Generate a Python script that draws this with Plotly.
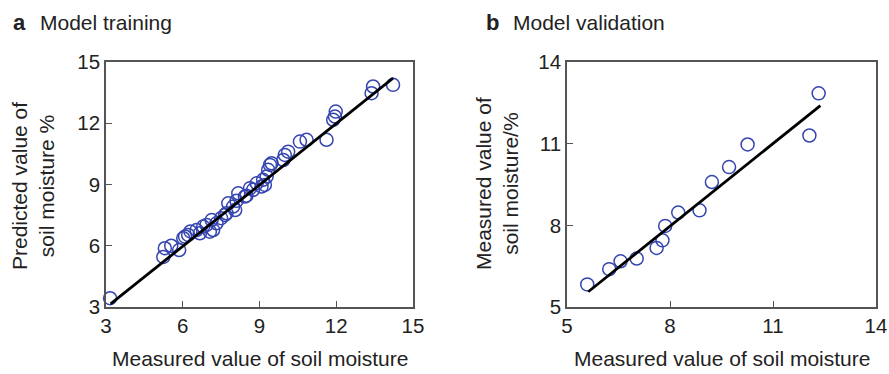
import plotly.graph_objects as go

# Training data (measured, predicted)
train_measured = [3.16, 5.24, 5.30, 5.55, 5.86, 6.02, 6.09, 6.21, 6.30, 6.54, 6.67, 6.80, 6.93,
                  7.06, 7.13, 7.19, 7.32, 7.50, 7.65, 7.71, 7.78, 7.97, 8.05, 8.10, 8.17, 8.43,
                  8.49, 8.63, 8.75, 8.89, 9.08, 9.14, 9.21, 9.28, 9.34, 9.41, 9.47, 9.93, 9.99,
                  10.12, 10.58, 10.84, 11.62, 11.88, 11.95, 11.98, 13.38, 13.44, 14.22]
train_predicted = [3.43, 5.45, 5.88, 6.00, 5.79, 6.37, 6.45, 6.53, 6.70, 6.77, 6.61, 6.94, 7.02,
                   6.69, 7.26, 6.77, 7.10, 7.35, 7.51, 7.59, 8.08, 7.92, 7.75, 8.20, 8.57, 8.41,
                   8.45, 8.82, 8.74, 9.06, 8.90, 9.23, 8.98, 9.39, 9.72, 9.96, 10.04, 10.20, 10.45,
                   10.61, 11.10, 11.19, 11.19, 12.17, 12.33, 12.57, 13.47, 13.80, 13.88]
train_fit_x = [3.18, 14.22]
train_fit_y = [3.15, 14.21]

# Validation data
val_x = [5.59, 6.23, 6.56, 7.03, 7.61, 7.78, 7.86, 8.24, 8.86, 9.22, 9.72, 10.26, 12.06, 12.33]
val_y = [5.83, 6.39, 6.68, 6.78, 7.17, 7.45, 7.98, 8.47, 8.55, 9.59, 10.14, 10.97, 11.30, 12.85]
val_fit_x = [5.62, 12.38]
val_fit_y = [5.56, 12.40]

train_ticks = [3, 6, 9, 12, 15]
val_ticks = [5, 8, 11, 14]

marker_style = dict(symbol="circle-open", size=13, color="#3545b0", line=dict(width=1.5, color="#3545b0"))
line_style = dict(color="black", width=2.8)

fig = go.Figure()
fig.add_trace(go.Scatter(x=train_measured, y=train_predicted, mode="markers", marker=marker_style,
                         xaxis="x", yaxis="y", showlegend=False, cliponaxis=False))
fig.add_trace(go.Scatter(x=train_fit_x, y=train_fit_y, mode="lines", line=line_style,
                         xaxis="x", yaxis="y", showlegend=False))
fig.add_trace(go.Scatter(x=val_x, y=val_y, mode="markers", marker=marker_style,
                         xaxis="x2", yaxis="y2", showlegend=False, cliponaxis=False))
fig.add_trace(go.Scatter(x=val_fit_x, y=val_fit_y, mode="lines", line=line_style,
                         xaxis="x2", yaxis="y2", showlegend=False))

font_family = "Liberation Sans, Arial, sans-serif"
txt = "#222222"
axis_common = dict(showgrid=False, zeroline=False, showline=True, linecolor="#555555", linewidth=1.5,
                   mirror=True, ticks="inside", ticklen=6, tickcolor="#555555", tickwidth=1.2,
                   automargin=False,
                   tickfont=dict(size=20.5, color=txt, family=font_family))

W, H = 889, 374
y0, y1 = 1 - 307 / H, 1 - 62 / H

def ann(text, x, y, size, angle=0, anchor="left"):
    return dict(text=text, x=x / W, y=1 - y / H, xref="paper", yref="paper", xanchor=anchor,
                yanchor="middle", textangle=angle, showarrow=False,
                font=dict(size=size, family=font_family, color=txt))

fig.update_layout(
    width=W, height=H, autosize=False,
    margin=dict(l=0, r=0, t=0, b=0, pad=0, autoexpand=False),
    paper_bgcolor="white", plot_bgcolor="white",
    font=dict(family=font_family, color=txt),
    xaxis=dict(domain=[106 / W, 413 / W], range=[3, 15], tickvals=train_ticks, anchor="y", **axis_common),
    yaxis=dict(domain=[y0, y1], range=[3, 15], tickvals=train_ticks, anchor="x", **axis_common),
    xaxis2=dict(domain=[567 / W, 876 / W], range=[5, 14], tickvals=val_ticks, anchor="y2", **axis_common),
    yaxis2=dict(domain=[y0, y1], range=[5, 14], tickvals=val_ticks, anchor="x2", **axis_common),
    annotations=[
        ann("<b>a</b>", 11, 22, 22),
        ann("Model training", 38, 22, 21),
        ann("<b>b</b>", 484, 22, 22),
        ann("Model validation", 511, 22, 21),
        ann("Measured value of soil moisture", (106 + 413) / 2, 358, 21, anchor="center"),
        ann("Measured value of soil moisture", (567 + 876) / 2, 358, 21, anchor="center"),
        ann("Predicted value of<br>soil moisture %", 33, 186, 21, angle=-90, anchor="center"),
        ann("Measured value of<br>soil moisture/%", 497, 184, 21, angle=-90, anchor="center"),
    ],
)

fig.write_html("out.html")
